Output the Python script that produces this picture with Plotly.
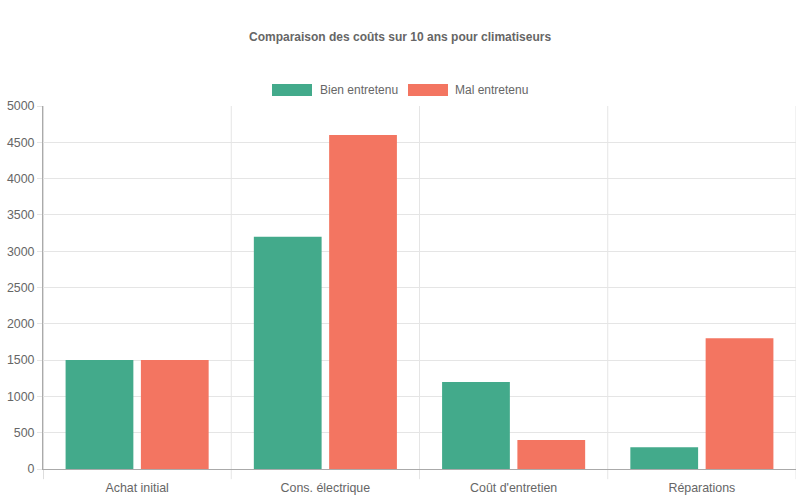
import plotly.graph_objects as go

categories = ["Achat initial", "Cons. électrique", "Coût d'entretien", "Réparations"]
bien_entretenu = [1500, 3200, 1200, 300]
mal_entretenu = [1500, 4600, 400, 1800]
series_names = ["Bien entretenu", "Mal entretenu"]

GREEN = "#43AA8B"
RED = "#F37561"
TEXT = "#666666"
GRID = "#e5e5e5"

fig = go.Figure()
fig.add_trace(go.Bar(x=categories, y=bien_entretenu, name=series_names[0],
                     marker=dict(color=GREEN, line=dict(width=0))))
fig.add_trace(go.Bar(x=categories, y=mal_entretenu, name=series_names[1],
                     marker=dict(color=RED, line=dict(width=0))))

# vertical grid lines between categories, Chart.js style (extend below the axis)
shapes = []
for k in range(len(categories) + 1):
    shapes.append(dict(type="line", xref="x", yref="paper",
                       x0=k - 0.5, x1=k - 0.5, y0=-0.028, y1=1,
                       line=dict(color=GRID if k > 0 else "#bbbbbb", width=1), layer="below"))

# legend drawn by hand to get the wide colour boxes
annotations = [
    dict(text="<b>Comparaison des coûts sur 10 ans pour climatiseurs</b>", xref="paper", yref="paper",
         x=(400 - 43) / 753, y=1, yshift=69, yanchor="middle", showarrow=False,
         font=dict(size=12, color=TEXT)),
]
legend_items = [(series_names[0], GREEN, 272, 318), (series_names[1], RED, 408, 453)]
for name, color, bx, tx in legend_items:
    shapes.append(dict(type="rect", xref="paper", yref="paper",
                       x0=(bx - 43) / 753, x1=(bx + 40 - 43) / 753,
                       y0=1 + (106 - 96) / 363, y1=1 + (106 - 84) / 363,
                       fillcolor=color, line=dict(width=0)))
    annotations.append(dict(text=name, xref="paper", yref="paper", xanchor="left",
                            x=(tx - 43) / 753, y=1 + (106 - 90) / 363, yanchor="middle",
                            showarrow=False, font=dict(size=12, color=TEXT)))

fig.update_layout(
    width=800, height=500,
    margin=dict(l=43, r=4, t=106, b=31),
    paper_bgcolor="white", plot_bgcolor="white",
    font=dict(family="Liberation Sans, Arial, sans-serif", size=12, color=TEXT),
    showlegend=False,
    barmode="group", bargap=0.2, bargroupgap=0.1,
    shapes=shapes, annotations=annotations,
    xaxis=dict(showgrid=False, showline=True, linecolor="#aaaaaa", ticks="",
               tickfont=dict(size=12.4, color=TEXT), range=[-0.5, 3.5], automargin=False,
               ticklabelstandoff=7),
    yaxis=dict(range=[0, 5000], dtick=500, showgrid=True, gridcolor=GRID,
               showline=True, linecolor="#aaaaaa", ticks="outside", ticklen=5,
               tickcolor=GRID, zeroline=False, tickfont=dict(size=12.4, color=TEXT),
               automargin=False),
)

fig.write_html("out.html", config={"displayModeBar": False},
               post_script="document.body.style.margin='0';")
